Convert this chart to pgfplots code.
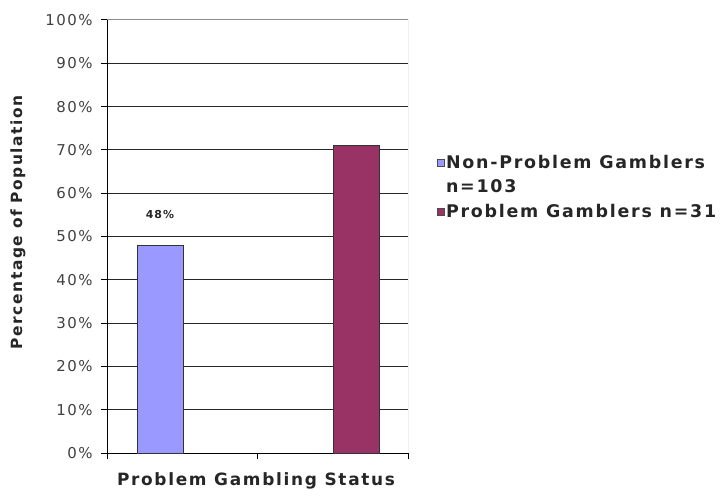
\documentclass[border=0pt]{standalone}
\usepackage{pgfplots}
\pgfplotsset{compat=1.18}
\usepackage{fontspec}
\setmainfont{DejaVu Sans}[LetterSpace=10]
\definecolor{barA}{HTML}{9999FF}
\definecolor{barB}{HTML}{993366}
\begin{document}
\begin{tikzpicture}
\begin{axis}[
  scale only axis, width=301bp, height=433bp,
  xmin=0, xmax=2, ymin=0, ymax=100,
  xtick={0,1,2}, xticklabels={,,},
  ytick={0,10,...,100},
  yticklabel={\pgfmathprintnumber{\tick}\%},
  /pgf/number format/assume math mode=true,
  yticklabel style={font=\fontsize{15}{17}\selectfont, text=black!75, xshift=-5bp},
  ymajorgrids, grid style={black!85, line width=1bp},
  axis x line*=bottom, axis y line*=left,
  axis line style={black, line width=1bp},
  tick align=outside, major tick length=6bp,
  tick style={black, line width=1bp},
  xlabel={Problem Gambling Status},
  ylabel={Percentage of Population},
  xlabel style={font=\bfseries\fontsize{17}{20}\selectfont, text=black!85, at={(rel axis cs:0.495,-0.0647)}, anchor=center},
  ylabel style={font=\bfseries\fontsize{15.5}{18}\selectfont, text=black!85, at={(rel axis cs:-0.296,0.533)}, anchor=center},
  legend style={at={(rel axis cs:1.094,0.693)}, anchor=north west, draw=none, fill=none,
    font=\bfseries\fontsize{17.5}{20}\selectfont, text=black!85, inner sep=0pt,
    row sep=6bp, cells={anchor=west, inner xsep=2bp}},
  legend image code/.code={\draw[#1, draw=black!70, line width=0.6bp] (0bp,-3.5bp) rectangle (7bp,3.5bp);},
]
\addplot[ybar, bar width=0.306, bar shift=0pt, fill=barA, draw=black!80, line width=0.9bp,
  nodes near coords={\pgfmathprintnumber{\pgfplotspointmeta}\%},
  nodes near coords style={font=\bfseries\fontsize{11}{12}\selectfont, text=black!85, anchor=center, yshift=31bp}]
  coordinates {(0.352,48)};
\addlegendentry{Non-Problem Gamblers}
\addlegendimage{empty legend}
\addlegendentry{n=103}
\addplot[ybar, bar width=0.306, bar shift=0pt, fill=barB, draw=black!80, line width=0.9bp]
  coordinates {(1.658,71)};
\addlegendentry{Problem Gamblers n=31}
\draw[black!45, line width=1bp] (rel axis cs:0,1) -- (rel axis cs:1,1) -- (rel axis cs:1,0);
\coordinate (bl) at (rel axis cs:-0.3555,-0.1062);
\coordinate (tr) at (rel axis cs:2.0365,1.0462);
\end{axis}
\pgfresetboundingbox
\path (bl) rectangle (tr);
\end{tikzpicture}
\end{document}
